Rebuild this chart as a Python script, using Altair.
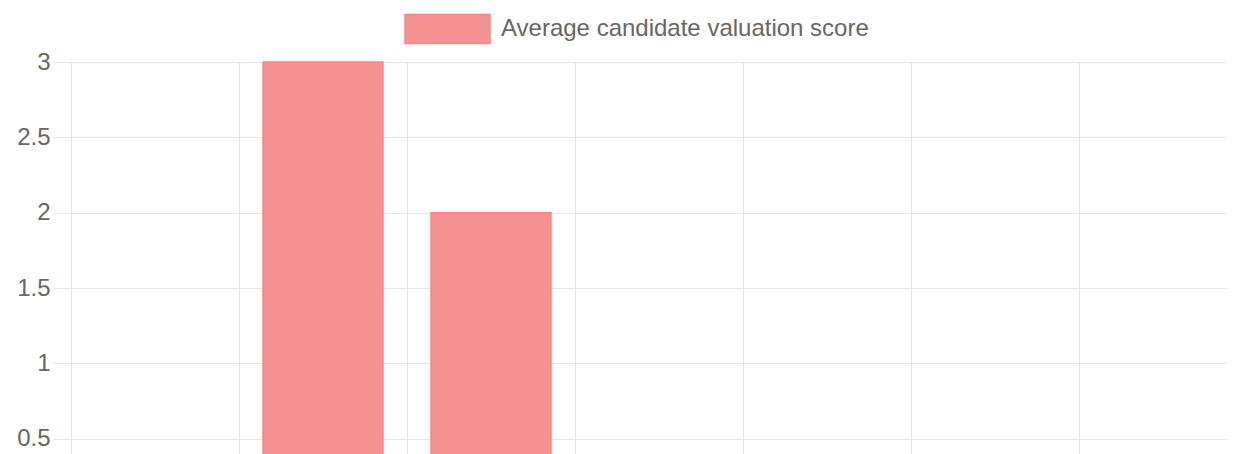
import altair as alt
import pandas as pd

# ---- data ----
categories = ["Candidate 1", "Candidate 2", "Candidate 3", "Candidate 4",
              "Candidate 5", "Candidate 6", "Candidate 7"]
scores = [0, 3, 2, 0, 0, 0, 0]
series_name = "Average candidate valuation score"
y_ticks = [0, 0.5, 1, 1.5, 2, 2.5, 3]

df = pd.DataFrame({
    "candidate": categories,
    "score": scores,
    "series": [series_name] * len(categories),
})

GRID = "#e6e6e6"
TEXT = "#666666"
FONT = "Liberation Sans"
BAR_FILL = "#f59292"
BAR_STROKE = "#ff8585"

legend_path = "M-1,-0.34L1,-0.34L1,0.34L-1,0.34Z"

chart = (
    alt.Chart(df)
    .mark_bar(width=alt.RelativeBandSize(120 / 168), stroke=BAR_STROKE, strokeWidth=1.5)
    .encode(
        x=alt.X(
            "candidate:N",
            sort=categories,
            title=None,
            scale=alt.Scale(paddingInner=0, paddingOuter=0, range=[0, 1176]),
            axis=alt.Axis(
                bandPosition=0, grid=True, gridColor=GRID, domainColor=GRID,
                tickColor=GRID, tickSize=18, labels=False,
            ),
        ),
        y=alt.Y(
            "score:Q",
            title=None,
            scale=alt.Scale(domain=[0, 3], nice=False),
            axis=alt.Axis(
                values=y_ticks, format="~g", grid=True, gridColor=GRID,
                domainColor=GRID, tickColor=GRID, tickSize=18, labelPadding=3,
                labelColor=TEXT, labelFont=FONT, labelFontSize=24,
            ),
        ),
        color=alt.Color(
            "series:N",
            scale=alt.Scale(range=[BAR_FILL]),
            legend=alt.Legend(
                title=None, orient="none", legendX=333, legendY=-76.5,
                padding=0, symbolType=legend_path, symbolSize=7225,
                symbolStrokeColor=BAR_STROKE, symbolStrokeWidth=1.5,
                symbolOpacity=1, labelFont=FONT, labelFontSize=24,
                labelColor=TEXT, labelOffset=10, labelLimit=0,
            ),
        ),
    )
    .properties(
        width=1156,
        height=452,
        autosize=alt.AutoSizeParams(type="none"),
        padding={"left": 63, "top": 54, "right": 0, "bottom": 0},
    )
    .configure_view(stroke=None)
)

chart.save("out.html", embed_options={"renderer": "svg", "actions": False})
